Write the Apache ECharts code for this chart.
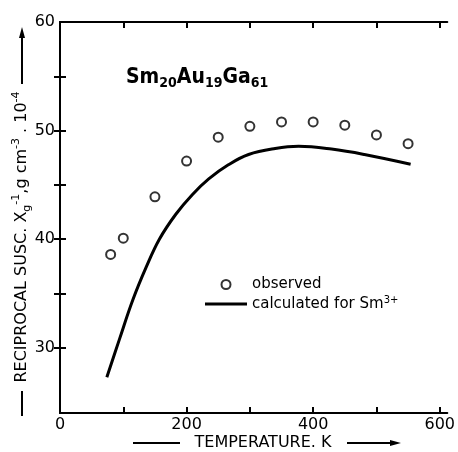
<!DOCTYPE html>
<html>
<head>
<meta charset="utf-8">
<script src="https://cdn.jsdelivr.net/npm/echarts@6/dist/echarts.min.js"></script>
<style>
  html, body { margin: 0; padding: 0; background: #fff; }
  #chart { width: 458px; height: 452px; }
</style>
</head>
<body>
<div id="chart"></div>
<script>
// observed points (temperature K, reciprocal susceptibility)
const obsT = [80, 100, 150, 200, 250, 300, 350, 400, 450, 500, 550]
const obsV = [38.6, 40.1, 43.9, 47.2, 49.4, 50.4, 50.8, 50.8, 50.5, 49.6, 48.8]

// calculated curve for Sm3+
const calcT = [74, 94, 115, 136, 157, 183, 209, 235, 266, 298, 340, 377, 429, 481, 554]
const calcV = [27.3, 30.8, 34.4, 37.4, 40.0, 42.3, 44.1, 45.55, 46.85, 47.8, 48.35, 48.55, 48.3, 47.8, 46.9]

const xLabels = [0, 200, 400, 600]
const xTicks = [100, 200, 300, 400, 500, 600]
const yLabels = [30, 40, 50, 60]
const yTicks = [30, 35, 40, 45, 50, 55]

const font = 'DejaVu Sans'
const chart = echarts.init(document.getElementById('chart'))

const baseAxis = {
  axisLine: { show: true, lineStyle: { color: '#000', width: 2 } },
  splitLine: { show: false },
  axisTick: { inside: true, length: 6, lineStyle: { color: '#000', width: 2 } }
}

const option = {
  backgroundColor: '#fff',
  animation: false,
  grid: { left: 60, right: 7, top: 22, bottom: 39 },
  xAxis: [
    Object.assign({}, baseAxis, {
      type: 'value', min: 0, max: 612, position: 'bottom',
      axisTick: Object.assign({}, baseAxis.axisTick, { customValues: xTicks }),
      axisLabel: { customValues: xLabels, color: '#000', fontFamily: font, fontSize: 16, margin: 4 }
    }),
    Object.assign({}, baseAxis, {
      type: 'value', min: 0, max: 612, position: 'top',
      axisTick: Object.assign({}, baseAxis.axisTick, { customValues: xTicks }),
      axisLabel: { show: false }
    })
  ],
  yAxis: [
    Object.assign({}, baseAxis, {
      type: 'value', min: 24, max: 60, position: 'left',
      axisTick: Object.assign({}, baseAxis.axisTick, { customValues: yTicks }),
      axisLabel: { customValues: yLabels, color: '#000', fontFamily: font, fontSize: 16, margin: 5 }
    }),
    Object.assign({}, baseAxis, {
      type: 'value', min: 24, max: 60, position: 'right',
      axisTick: Object.assign({}, baseAxis.axisTick, { customValues: yTicks }),
      axisLabel: { show: false }
    })
  ],
  legend: {
    orient: 'vertical',
    left: 205,
    top: 277,
    padding: 0,
    itemWidth: 42,
    itemHeight: 9,
    itemGap: 3,
    textStyle: {
      color: '#000', fontFamily: font, fontSize: 15,
      rich: {
        t: { fontFamily: font, fontSize: 15, color: '#000', lineHeight: 18 },
        sup: { fontFamily: font, fontSize: 10, color: '#000', verticalAlign: 'top', lineHeight: 18 }
      }
    },
    formatter: name => name === 'observed' ? name : '{t|calculated for Sm}{sup|3+}',
    data: [
      { name: 'observed', icon: 'circle' },
      { name: 'calculated', icon: 'path://M0,0 L40,0 L40,3 L0,3 Z' }
    ]
  },
  series: [
    {
      name: 'observed',
      type: 'scatter',
      symbol: 'circle',
      symbolSize: 9,
      itemStyle: { color: '#fff', borderColor: '#000', borderWidth: 2 },
      data: obsT.map((t, i) => [t, obsV[i]])
    },
    {
      name: 'calculated',
      type: 'line',
      smooth: 0.4,
      showSymbol: false,
      lineStyle: { color: '#000', width: 3 },
      itemStyle: { color: '#000' },
      data: calcT.map((t, i) => [t, calcV[i]])
    }
  ],
  graphic: [
    {
      type: 'text', left: 126, top: 67,
      style: {
        text: '{b|Sm}{s|20}{b|Au}{s|19}{b|Ga}{s|61}',
        rich: {
          b: { fontFamily: 'DejaVu Sans Condensed', fontSize: 21, fontWeight: 'bold', fill: '#000', lineHeight: 26, verticalAlign: 'middle' },
          s: { fontFamily: 'DejaVu Sans Condensed', fontSize: 14, fontWeight: 'bold', fill: '#000', lineHeight: 26, verticalAlign: 'bottom' }
        }
      }
    },
    {
      type: 'text', x: 22, y: 237, rotation: Math.PI / 2,
      style: {
        text: '{t|RECIPROCAL SUSC. X}{sb|g}{sp|-1}{t|,g cm}{sp|-3}{t| . 10}{sp|-4}',
        align: 'center', verticalAlign: 'middle',
        rich: {
          t: { fontFamily: font, fontSize: 16, fill: '#000', lineHeight: 22, verticalAlign: 'middle' },
          sb: { fontFamily: font, fontSize: 11, fill: '#000', lineHeight: 22, verticalAlign: 'bottom' },
          sp: { fontFamily: font, fontSize: 11, fill: '#000', lineHeight: 22, verticalAlign: 'top' }
        }
      }
    },
    { type: 'line', shape: { x1: 22, y1: 416, x2: 22, y2: 391 }, style: { stroke: '#000', lineWidth: 2 } },
    { type: 'line', shape: { x1: 22, y1: 84, x2: 22, y2: 34 }, style: { stroke: '#000', lineWidth: 2 } },
    { type: 'polygon', shape: { points: [[22, 27], [19, 38], [25, 38]] }, style: { fill: '#000' } },
    {
      type: 'text', x: 263, y: 443,
      style: { text: 'TEMPERATURE. K', fontFamily: font, fontSize: 16, fill: '#000', align: 'center', verticalAlign: 'middle' }
    },
    { type: 'line', shape: { x1: 133, y1: 443, x2: 180, y2: 443 }, style: { stroke: '#000', lineWidth: 2 } },
    { type: 'line', shape: { x1: 347, y1: 443, x2: 393, y2: 443 }, style: { stroke: '#000', lineWidth: 2 } },
    { type: 'polygon', shape: { points: [[401, 443], [390, 440], [390, 446]] }, style: { fill: '#000' } }
  ]
}

chart.setOption(option)
</script>
</body>
</html>
